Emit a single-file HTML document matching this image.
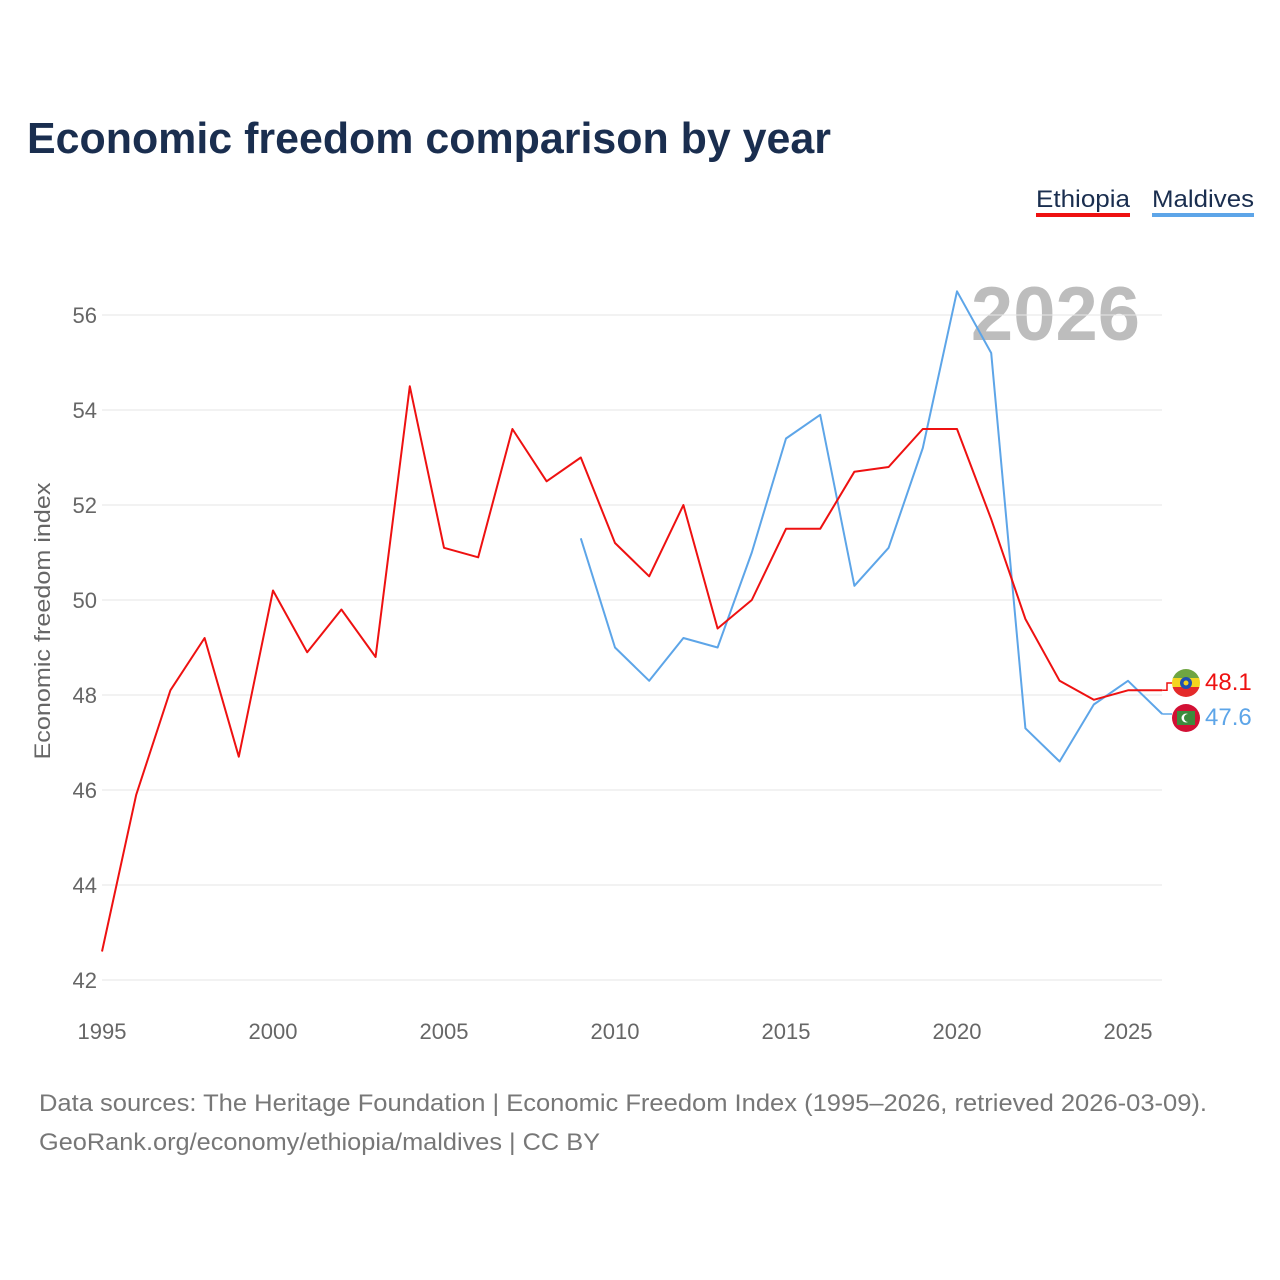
<!DOCTYPE html>
<html><head><meta charset="utf-8">
<style>
body{margin:0;background:#fff;font-family:"Liberation Sans",sans-serif;}
#wrap{position:relative;width:1280px;height:1280px;overflow:hidden;}
</style></head>
<body>
<div id="wrap">
<svg id="chart" width="1280" height="1280">
<text x="27" y="153" font-size="44" font-weight="bold" fill="#1a2e4f" textLength="804" lengthAdjust="spacingAndGlyphs">Economic freedom comparison by year</text>
<g>
<text x="1036" y="207" font-size="24" fill="#1a2e4f" textLength="94" lengthAdjust="spacingAndGlyphs">Ethiopia</text>
<rect x="1036" y="213" width="94" height="4" fill="#ee1111"/>
<text x="1152" y="207" font-size="24" fill="#1a2e4f" textLength="102" lengthAdjust="spacingAndGlyphs">Maldives</text>
<rect x="1152" y="213" width="102" height="4" fill="#5da5e8"/>
</g>
<text x="1140" y="340" font-size="76" font-weight="bold" fill="#bdbdbd" text-anchor="end">2026</text>
<g id="grid"></g>
<g id="series"></g>
<text transform="translate(50,621) rotate(-90)" font-size="22" fill="#666" text-anchor="middle" textLength="277" lengthAdjust="spacingAndGlyphs">Economic freedom index</text>
<text x="39" y="1111" font-size="24" fill="#777" textLength="1168" lengthAdjust="spacingAndGlyphs">Data sources: The Heritage Foundation | Economic Freedom Index (1995–2026, retrieved 2026-03-09).</text>
<text x="39" y="1150" font-size="24" fill="#777" textLength="561" lengthAdjust="spacingAndGlyphs">GeoRank.org/economy/ethiopia/maldives | CC BY</text>
</svg>
</div>
<script>
const years=[1995,1996,1997,1998,1999,2000,2001,2002,2003,2004,2005,2006,2007,2008,2009,2010,2011,2012,2013,2014,2015,2016,2017,2018,2019,2020,2021,2022,2023,2024,2025,2026];
const ethiopia=[42.6,45.9,48.1,49.2,46.7,50.2,48.9,49.8,48.8,54.5,51.1,50.9,53.6,52.5,53.0,51.2,50.5,52.0,49.4,50.0,51.5,51.5,52.7,52.8,53.6,53.6,51.7,49.6,48.3,47.9,48.1,48.1];
const maldives=[null,null,null,null,null,null,null,null,null,null,null,null,null,null,51.3,49.0,48.3,49.2,49.0,51.0,53.4,53.9,50.3,51.1,53.2,56.5,55.2,47.3,46.6,47.8,48.3,47.6];
const yTicks=[42,44,46,48,50,52,54,56];
const xTicks=[1995,2000,2005,2010,2015,2020,2025];
const NS="http://www.w3.org/2000/svg";
const xs=y=>102+(y-1995)*34.2;
const ys=v=>980-(v-42)*47.5;
const grid=document.getElementById('grid'),ser=document.getElementById('series');
function mk(tag,attrs,parent){const e=document.createElementNS(NS,tag);for(const k in attrs)e.setAttribute(k,attrs[k]);parent.appendChild(e);return e;}
yTicks.forEach(t=>{
 const l=mk('line',{x1:102,x2:1162,y1:ys(t),y2:ys(t),stroke:'#e6e6e6','stroke-width':1},grid);
 
 
 const tx=mk('text',{x:97,y:ys(t)+8,'font-size':22,fill:'#666','text-anchor':'end'},grid);
 tx.textContent=t;
 
 
});
xTicks.forEach(t=>{
 const tx=mk('text',{x:xs(t),y:1039,'font-size':22,fill:'#666','text-anchor':'middle'},grid);
 tx.textContent=t;
 
 
});
function line(vals,color,name){
 let d='';let pen=false;
 vals.forEach((v,i)=>{if(v==null){pen=false;return;}d+=(pen?'L':'M')+xs(years[i]).toFixed(1)+','+ys(v).toFixed(1);pen=true;});
 const p=mk('path',{d:d,fill:'none',stroke:color,'stroke-width':2,'stroke-linejoin':'round'},ser);
 
 
}
line(maldives,'#5da5e8','maldives-line');
line(ethiopia,'#ee1111','ethiopia-line');
const eLast=ethiopia[ethiopia.length-1],mLast=maldives[maldives.length-1];
const eY=ys(eLast),mY=ys(mLast);
const lx=xs(2026);
const ec=mk('path',{d:`M${lx},${eY}H1167V${683}H1172`,fill:'none',stroke:'#ee1111','stroke-width':1.5},ser);


const mc=mk('path',{d:`M${lx},${mY}H1172`,fill:'none',stroke:'#5da5e8','stroke-width':1.5},ser);


const ef=mk('g',{},ser);


const cp=mk('clipPath',{id:'c1'},ef);
mk('circle',{cx:1186,cy:683,r:14},cp);
const eg=mk('g',{'clip-path':'url(#c1)'},ef);
mk('rect',{x:1172,y:669,width:28,height:10,fill:'#6fa541'},eg);
mk('rect',{x:1172,y:678,width:28,height:10,fill:'#f4d51f'},eg);
mk('rect',{x:1172,y:687,width:28,height:10,fill:'#e42a2a'},eg);
mk('circle',{cx:1186,cy:683,r:6,fill:'#2050b0'},eg);
mk('circle',{cx:1186,cy:683,r:2.5,fill:'#f4d51f'},eg);
const mf=mk('g',{},ser);


mk('circle',{cx:1186,cy:718,r:14,fill:'#d21034'},mf);
mk('rect',{x:1177,y:711,width:18,height:14,fill:'#3d8b3d'},mf);
mk('circle',{cx:1186,cy:718,r:4.5,fill:'#fff'},mf);
mk('circle',{cx:1188,cy:718,r:4,fill:'#3d8b3d'},mf);
const et=mk('text',{x:1205,y:690,'font-size':24,fill:'#ee1111'},ser);
et.textContent=eLast.toFixed(1);


const mt=mk('text',{x:1205,y:725,'font-size':24,fill:'#5da5e8'},ser);
mt.textContent=mLast.toFixed(1);


</script>
</body></html>
